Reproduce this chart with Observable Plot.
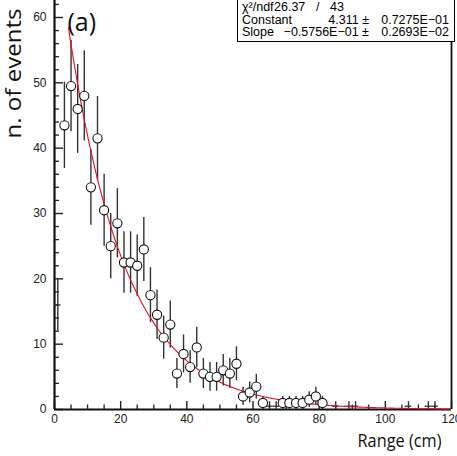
<!DOCTYPE html>
<html><head><meta charset="utf-8">
<script src="https://cdn.jsdelivr.net/npm/d3@7"></script>
<script src="https://cdn.jsdelivr.net/npm/@observablehq/plot@0.6"></script>
<style>
body{margin:0;background:#fff;}
#wrap{position:relative;width:457px;height:456px;overflow:hidden;background:#fff;}
#stats{position:absolute;left:237px;top:-1px;width:216px;height:41px;border:1px solid #000;background:#fff;font-family:"Liberation Sans",Arial,sans-serif;font-size:12.5px;color:#000;}
#stats span{position:absolute;white-space:pre;line-height:13px;}
</style></head>
<body><div id="wrap"></div>
<script>
// circle points (bin centre, content, error)
const ptX   = [3,5,7,9,11,13,15,17,19,21,23,25,27,29,31,33,35,37,39,41,43,45,47,49,51,53,55,57,59,61,63,69,71,73,75,77,79,81];
const ptVal = [43.5,49.5,46,48,34,41.5,30.5,25,28.5,22.5,22.5,22,24.5,17.5,14.5,11,13,5.5,8.5,6.5,9.5,5.5,5,5,6,5.5,7,2,2.6,3.5,1,1,1,1,1,1.5,2,1];
const ptErr = [6.6,7.0,6.8,6.9,5.8,6.4,5.5,5.0,5.3,4.7,4.7,4.7,4.9,4.2,3.8,3.3,3.6,2.3,2.9,2.5,3.1,2.3,2.2,2.2,2.4,2.3,2.6,1.4,1.6,1.9,1.0,1.0,1.0,1.0,1.0,1.2,1.4,1.0];
// cross-only bins (no marker)
const crX   = [1,65,67,85,89,91,107,113,115];
const crVal = [16,0.5,0.5,0.5,0.5,0.5,0.5,0.5,0.5];
const crErr = [4,0.7,0.7,0.7,0.7,0.7,0.7,0.7,0.7];
const binHalf = 1;
// fit parameters (from the stats box)
const fitConstant = 4.311, fitSlope = -0.05756, fitFrom = 4.2, fitTo = 120;
// ticks
const xMajor = [0,20,40,60,80,100,120];
const xMinor = [5,10,15,25,30,35,45,50,55,65,70,75,85,90,95,105,110,115];
const yMajor = [0,10,20,30,40,50,60];
const yMinor = [2,4,6,8,12,14,16,18,22,24,26,28,32,34,36,38,42,44,46,48,52,54,56,58,62];

const pts = ptX.map((x,i)=>({x, v:ptVal[i], e:ptErr[i]}));
const crs = crX.map((x,i)=>({x, v:crVal[i], e:crErr[i]}));
const all = crs.concat(pts);
const fitPts = [];
for (let x = fitFrom; x <= fitTo + 1e-9; x += 0.5) fitPts.push({x, y: Math.exp(fitConstant + fitSlope*x)});

const W=457,H=456,mL=54,mR=6,mT=0,mB=47;
const pw=W-mL-mR, ph=H-mT-mB;
const labelFont = '"Open Sans", "Noto Sans", sans-serif';

const chart = Plot.plot({
  width:W, height:H, marginLeft:mL, marginRight:mR, marginTop:mT, marginBottom:mB,
  x:{domain:[0,120]}, y:{domain:[0,62.6]},
  style:{fontFamily:'"Liberation Sans", Arial, sans-serif', fontSize:"12px", background:"#fff", color:"#222"},
  marks:[
    Plot.axisX({ticks:xMajor, tickSize:0, tickPadding:5, label:null, fontSize:12}),
    Plot.axisY({ticks:yMajor, tickSize:0, tickPadding:8, label:null, fontSize:12}),
    Plot.tickX(xMinor, {x:d=>d, insetTop:ph-4.5, stroke:"#222", strokeWidth:1.3}),
    Plot.tickX(xMajor, {x:d=>d, insetTop:ph-8, stroke:"#222", strokeWidth:1.4}),
    Plot.tickY(yMinor, {y:d=>d, insetRight:pw-5, stroke:"#222", strokeWidth:1.3}),
    Plot.tickY(yMajor, {y:d=>d, insetRight:pw-9, stroke:"#222", strokeWidth:1.4}),
    Plot.ruleX([0], {stroke:"#111", strokeWidth:2.2}),
    Plot.ruleX([120], {stroke:"#111", strokeWidth:1.8}),
    Plot.ruleY([0], {stroke:"#111", strokeWidth:2.2}),
    Plot.ruleX(all, {x:"x", y1:d=>Math.max(0,d.v-d.e), y2:d=>d.v+d.e, stroke:"#333", strokeWidth:1.4}),
    Plot.ruleY(all, {y:"v", x1:d=>d.x-binHalf, x2:d=>d.x+binHalf, stroke:"#333", strokeWidth:1.3}),
    Plot.line(fitPts, {x:"x", y:"y", stroke:"#e5101c", strokeWidth:1.1}),
    Plot.dot(pts, {x:"x", y:"v", r:4.6, fill:"#fff", stroke:"#111", strokeWidth:1.1}),
    Plot.text(["(a)"], {frameAnchor:"top-left", dx:13, dy:13, textAnchor:"start", fontSize:25, fontFamily:labelFont, fill:"#111"}),
    Plot.text(["n. of events"], {frameAnchor:"top-left", dx:-49, dy:8, rotate:-90, textAnchor:"end", fontSize:22, fontFamily:labelFont, fill:"#111", className:"ylab"}),
    Plot.text(["Range (cm)"], {frameAnchor:"bottom-right", dx:-10, dy:37, textAnchor:"end", fontSize:19, fontFamily:labelFont, fill:"#111", className:"xlab"})
  ]
});
const wrap = document.getElementById("wrap");
wrap.appendChild(chart);
// condensed look for the humanist labels
chart.querySelectorAll(".ylab text").forEach(t=>{t.setAttribute("textLength",130);t.setAttribute("lengthAdjust","spacingAndGlyphs");});
chart.querySelectorAll(".xlab text").forEach(t=>{t.setAttribute("textLength",84);t.setAttribute("lengthAdjust","spacingAndGlyphs");});

// statistics box
const statRows = [
  [["χ²/ndf",4,"l"],["26.37",36,"l"],["/",78,"l"],["43",92,"l"]],
  [["Constant",4,"l"],["4.311 ±",131,"r"],["0.7275E−01",211,"r"]],
  [["Slope",4,"l"],["−0.5756E−01 ±",131,"r"],["0.2693E−02",211,"r"]]
];
const rowTop = [0.5,13.5,26];
const box = document.createElement("div");
box.id = "stats";
statRows.forEach((row,ri)=>{
  row.forEach(([txt,x,al])=>{
    const s=document.createElement("span");
    s.textContent=txt;
    s.style.top=rowTop[ri]+"px";
    if(al==="l") s.style.left=x+"px"; else s.style.right=(216-x)+"px";
    box.appendChild(s);
  });
});
wrap.appendChild(box);
</script>
</body></html>
